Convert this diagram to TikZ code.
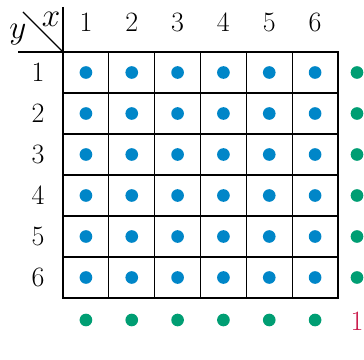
\documentclass[tikz,border=0pt]{standalone}
\usepackage{tikz}
\definecolor{dotblue}{RGB}{0,134,200}
\definecolor{dotgreen}{RGB}{0,158,115}
\definecolor{onered}{RGB}{200,20,70}
\tikzset{
  cell/.style={line width=0.9pt},
  frame/.style={line width=1.3pt},
  bdot/.style={circle, inner sep=0pt, minimum size=9.5pt, fill=dotblue},
  gdot/.style={circle, inner sep=0pt, minimum size=9.5pt, fill=dotgreen},
  lab/.style={font=\fontsize{21}{25}\selectfont, inner sep=0pt}
}
\begin{document}
\begin{tikzpicture}[x=0.75pt,y=-0.75pt]
		\useasboundingbox (0,0) rectangle (364,360);
		% grid
		\foreach \i in {1,...,5}{
		\draw[cell] (63+45.83*\i,52) -- (63+45.83*\i,298);
		\draw[cell] (63,52+41*\i) -- (338,52+41*\i);
		}
		\draw[frame] (63,7) -- (63,298) -- (338,298) -- (338,52) -- (18,52);
		\draw[cell] (23,12) -- (63,52);
		\node[lab, font=\fontsize{23}{27}\selectfont] (x) at (51,19){$x$};
		\node[lab, font=\fontsize{23}{27}\selectfont] (y) at (18,35){$y$};
		% labels and dots
		\foreach \i in {1,...,6}{
		\node[lab] (c\i) at (40.1+45.83*\i,22){\i};
		\node[lab] (r\i) at (38,31.5+41*\i){\i};
		\node[gdot] (g\i) at (357,31.5+41*\i){};
		\node[gdot] (h\i) at (40.1+45.83*\i,320){};
		\foreach \j in {1,...,6}{
		\node[bdot] (b\i\j) at (40.1+45.83*\i,31.5+41*\j){};
		}
		}
		\node[lab, text=onered] (one) at (357,321){1};
		\end{tikzpicture}
\end{document}
